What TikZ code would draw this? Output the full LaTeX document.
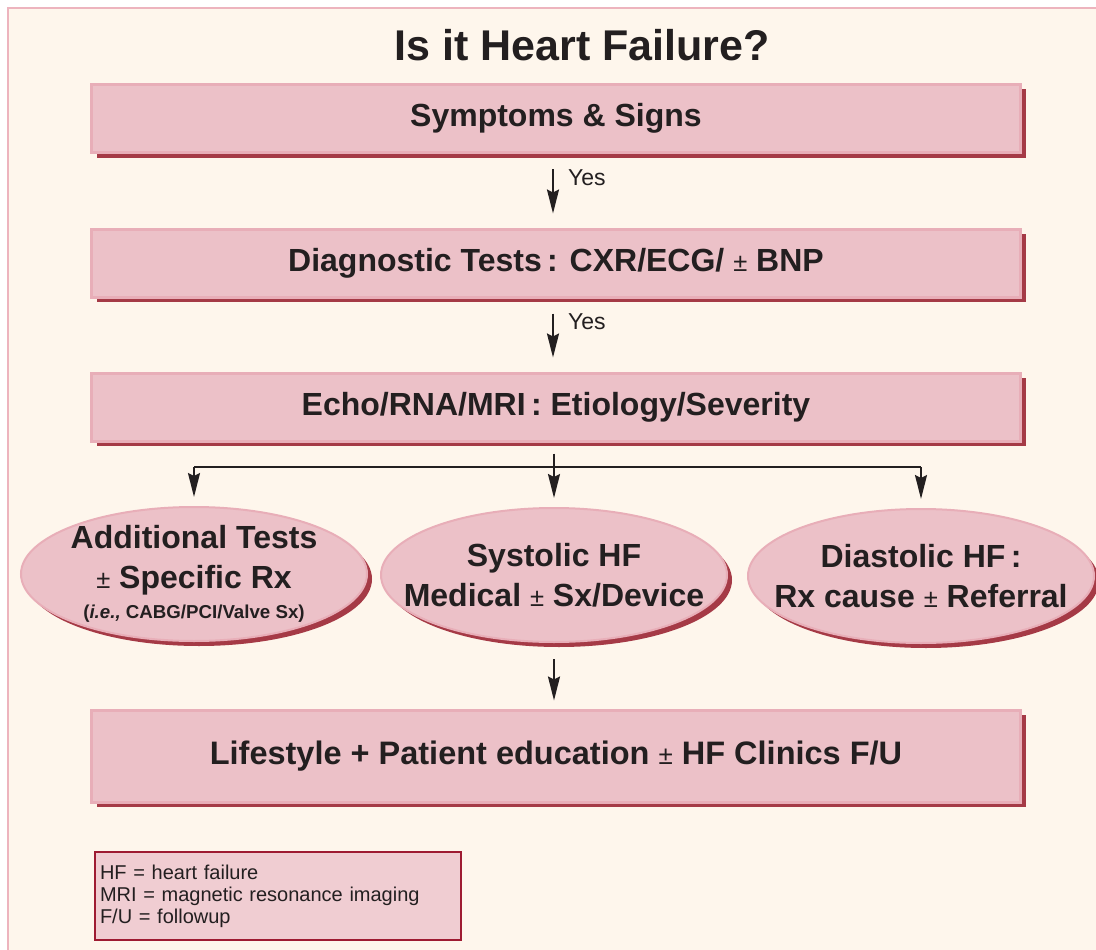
\documentclass[tikz,border=0pt]{standalone}
\usepackage{fontspec}
\setmainfont{Liberation Sans}
\usetikzlibrary{shapes.geometric}
\usetikzlibrary{shadows}
\usetikzlibrary{arrows.meta}
\definecolor{cream}{HTML}{FEF6EC}
\definecolor{boxpink}{HTML}{ECC1C8}
\definecolor{boxedge}{HTML}{E8AEB8}
\definecolor{shadowred}{HTML}{A53A46}
\definecolor{legendred}{HTML}{9E1B32}
\definecolor{legendfill}{HTML}{F0CDD2}
\definecolor{framepink}{HTML}{EDB4BE}
\definecolor{ink}{HTML}{231F20}
\newcommand{\smpm}{\scalebox{0.8}{\mdseries ±}}

\begin{document}
\begin{tikzpicture}[x=1pt,y=-1pt,
  box/.style={rectangle, minimum width=929pt, minimum height=68pt, fill=boxpink, draw=boxedge, line width=3pt, text=ink, font=\bfseries\fontsize{32}{36}\selectfont, drop shadow={opacity=1, fill=shadowred, shadow xshift=5pt, shadow yshift=-5pt}},
  oval/.style={ellipse, minimum width=346pt, minimum height=134pt, inner xsep=-35pt, inner ysep=-10pt, fill=boxpink, draw=boxedge, line width=2pt, align=center, text=ink, font=\bfseries\fontsize{32}{40}\selectfont, drop shadow={opacity=1, fill=shadowred, shadow xshift=5pt, shadow yshift=-5pt}},
  conn/.style={draw=ink, line width=2pt, -{Stealth[length=24pt,width=12pt,inset=3pt]}},
  link/.style={draw=ink, line width=2pt},
  yes/.style={anchor=west, inner sep=0pt, text=ink, font=\fontsize{23}{26}\selectfont}]
\useasboundingbox (0,0) rectangle (1096,950);
\fill[white] (0,0) rectangle (1096,950);
\fill[cream] (7,7) rectangle (1096,950);
\draw[framepink, line width=2.5pt] (8,960) -- (8,8) -- (1110,8);

\node[text=ink, font=\bfseries\fontsize{43}{47}\selectfont] (title) at (582,45) {Is it Heart Failure?};

\node[box] (symp) at (556,118.5) {Symptoms \& Signs};
\node[box] (diag) at (556,263) {Diagnostic Tests\,: CXR/ECG/ \smpm{} BNP};
\node[box] (echo) at (556,407) {Echo/RNA/MRI\,: Etiology/Severity};
\node[box, minimum height=92pt, font=\bfseries\fontsize{32.5}{36}\selectfont] (life) at (556,756) {Lifestyle + Patient education \smpm{} HF Clinics F/U};

\node[oval] (addl) at (194,574) {Additional Tests\\ \smpm{} Specific Rx\\[-10pt] {\fontsize{18.7}{22}\selectfont(\textit{i.e.,} CABG/PCI/Valve Sx)}};
\node[oval] (syst) at (554,575) {Systolic HF\\ Medical \smpm{} Sx/Device};
\node[oval] (diast) at (921,576) {Diastolic HF\,:\\ Rx cause \smpm{} Referral};

\coordinate (fork) at (554,467);

\draw[conn, shorten <=15pt, shorten >=14pt] ([xshift=-3pt]symp.south) -- ([xshift=-3pt]diag.north)
  node[yes, pos=.32, xshift=14pt] (yes1) {Yes};
\draw[conn, shorten <=15pt, shorten >=14pt] ([xshift=-3pt]diag.south) -- ([xshift=-3pt]echo.north)
  node[yes, pos=.32, xshift=14pt] (yes2) {Yes};
\draw[link, shorten <=11pt] (echo.south -| fork) -- (fork);
\draw[link] (addl.north |- fork) -- (diast.north |- fork);
\foreach \n in {addl,syst,diast} {
 \draw[conn, shorten >=9pt] (\n.north |- fork) -- (\n.north);
}
\draw[conn, shorten <=16pt, shorten >=8pt] (syst.south) -- (life.north -| syst);

\node[draw=legendred, fill=legendfill, line width=2pt, minimum width=366pt, minimum height=88pt, anchor=north west, align=left, text width=356pt, inner xsep=4pt, text=ink, font=\fontsize{20}{22}\selectfont] (abbr) at (94,851) {HF = heart failure\\ MRI = magnetic resonance imaging\\ F/U = followup};
\end{tikzpicture}
\end{document}
